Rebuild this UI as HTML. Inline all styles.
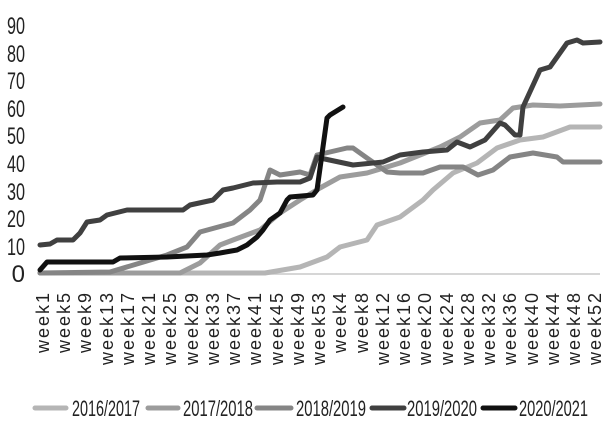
<!DOCTYPE html>
<html><head><meta charset="utf-8"><style>
html,body{margin:0;padding:0;background:#fff;}
svg{display:block;}
text{font-family:"Liberation Sans Narrow","Liberation Sans",sans-serif;}
</style></head><body>
<svg width="612" height="426" viewBox="0 0 612 426" xmlns="http://www.w3.org/2000/svg">
<g fill="#222" font-size="24" text-anchor="end">
<text x="25" y="282" >0</text>
<text x="25" y="255" textLength="18" lengthAdjust="spacingAndGlyphs">10</text>
<text x="25" y="227" textLength="18" lengthAdjust="spacingAndGlyphs">20</text>
<text x="25" y="200" textLength="18" lengthAdjust="spacingAndGlyphs">30</text>
<text x="25" y="172" textLength="18" lengthAdjust="spacingAndGlyphs">40</text>
<text x="25" y="144" textLength="18" lengthAdjust="spacingAndGlyphs">50</text>
<text x="25" y="117" textLength="18" lengthAdjust="spacingAndGlyphs">60</text>
<text x="25" y="89" textLength="18" lengthAdjust="spacingAndGlyphs">70</text>
<text x="25" y="62" textLength="18" lengthAdjust="spacingAndGlyphs">80</text>
<text x="25" y="34" textLength="18" lengthAdjust="spacingAndGlyphs">90</text>
</g>
<line x1="38" y1="274" x2="600" y2="274" stroke="#c8c8c8" stroke-width="1.5"/>
<g fill="none" stroke-width="5" stroke-linejoin="round" stroke-linecap="round">
<polyline stroke="#b5b5b5" points="40,273 265,273 300,267 327,257 340,247 367,240 377,225 400,217 423,200 433,190 453,173 477,163 497,148 520,140 543,137 570,127 600,127"/>
<polyline stroke="#9c9c9c" points="40,273 180,273 200,263 220,245 233,240 260,230 280,213 300,200 320,188 340,177 367,173 400,163 440,147 460,137 480,123 500,120 513,108 533,105 560,106 600,104"/>
<polyline stroke="#858585" points="40,273 110,272 167,255 187,247 200,232 233,223 250,210 260,200 270,170 280,175 300,172 310,175 317,155 347,148 353,148 367,158 387,172 400,173 423,173 440,167 463,167 478,175 493,170 510,157 533,153 557,157 563,162 600,162"/>
<polyline stroke="#404040" points="40,245 50,244 57,240 73,240 80,233 87,222 100,220 107,215 127,210 183,210 190,205 213,200 223,190 233,188 253,183 277,182 300,182 310,178 317,157 320,158 353,165 383,162 400,155 423,152 447,150 457,142 470,147 485,140 500,123 505,125 515,135 520,135 523,107 540,70 550,67 567,43 577,40 583,43 600,42"/>
<polyline stroke="#111" points="40,270 47,262 113,262 120,258 167,257 207,255 220,253 237,250 247,245 257,237 263,230 270,220 280,213 287,200 290,197 313,195 317,190 327,118 330,115 343,107"/>
</g>
<g fill="#222" font-size="18" font-family="Liberation Sans, sans-serif">
<text transform="translate(49,293) rotate(-90)" text-anchor="end" textLength="60" lengthAdjust="spacing">week1</text>
<text transform="translate(70,293) rotate(-90)" text-anchor="end" textLength="60" lengthAdjust="spacing">week5</text>
<text transform="translate(91,293) rotate(-90)" text-anchor="end" textLength="60" lengthAdjust="spacing">week9</text>
<text transform="translate(113,293) rotate(-90)" text-anchor="end" textLength="72" lengthAdjust="spacing">week13</text>
<text transform="translate(134,293) rotate(-90)" text-anchor="end" textLength="72" lengthAdjust="spacing">week17</text>
<text transform="translate(155,293) rotate(-90)" text-anchor="end" textLength="72" lengthAdjust="spacing">week21</text>
<text transform="translate(176,293) rotate(-90)" text-anchor="end" textLength="72" lengthAdjust="spacing">week25</text>
<text transform="translate(198,293) rotate(-90)" text-anchor="end" textLength="72" lengthAdjust="spacing">week29</text>
<text transform="translate(219,293) rotate(-90)" text-anchor="end" textLength="72" lengthAdjust="spacing">week33</text>
<text transform="translate(240,293) rotate(-90)" text-anchor="end" textLength="72" lengthAdjust="spacing">week37</text>
<text transform="translate(261,293) rotate(-90)" text-anchor="end" textLength="72" lengthAdjust="spacing">week41</text>
<text transform="translate(283,293) rotate(-90)" text-anchor="end" textLength="72" lengthAdjust="spacing">week45</text>
<text transform="translate(304,293) rotate(-90)" text-anchor="end" textLength="72" lengthAdjust="spacing">week49</text>
<text transform="translate(325,293) rotate(-90)" text-anchor="end" textLength="72" lengthAdjust="spacing">week53</text>
<text transform="translate(346,293) rotate(-90)" text-anchor="end" textLength="60" lengthAdjust="spacing">week4</text>
<text transform="translate(368,293) rotate(-90)" text-anchor="end" textLength="60" lengthAdjust="spacing">week8</text>
<text transform="translate(389,293) rotate(-90)" text-anchor="end" textLength="72" lengthAdjust="spacing">week12</text>
<text transform="translate(410,293) rotate(-90)" text-anchor="end" textLength="72" lengthAdjust="spacing">week16</text>
<text transform="translate(431,293) rotate(-90)" text-anchor="end" textLength="72" lengthAdjust="spacing">week20</text>
<text transform="translate(453,293) rotate(-90)" text-anchor="end" textLength="72" lengthAdjust="spacing">week24</text>
<text transform="translate(474,293) rotate(-90)" text-anchor="end" textLength="72" lengthAdjust="spacing">week28</text>
<text transform="translate(495,293) rotate(-90)" text-anchor="end" textLength="72" lengthAdjust="spacing">week32</text>
<text transform="translate(516,293) rotate(-90)" text-anchor="end" textLength="72" lengthAdjust="spacing">week36</text>
<text transform="translate(538,293) rotate(-90)" text-anchor="end" textLength="72" lengthAdjust="spacing">week40</text>
<text transform="translate(559,293) rotate(-90)" text-anchor="end" textLength="72" lengthAdjust="spacing">week44</text>
<text transform="translate(580,293) rotate(-90)" text-anchor="end" textLength="72" lengthAdjust="spacing">week48</text>
<text transform="translate(601,293) rotate(-90)" text-anchor="end" textLength="72" lengthAdjust="spacing">week52</text>
</g>
<g stroke-width="5" stroke-linecap="round">
<line x1="35" y1="408" x2="66" y2="408" stroke="#b5b5b5"/>
<line x1="148" y1="408" x2="178" y2="408" stroke="#9c9c9c"/>
<line x1="257" y1="408" x2="291" y2="408" stroke="#858585"/>
<line x1="372" y1="408" x2="404" y2="408" stroke="#404040"/>
<line x1="483" y1="408" x2="515" y2="408" stroke="#111"/>
</g>
<g fill="#222" font-size="22">
<text x="72" y="416" textLength="68" lengthAdjust="spacingAndGlyphs">2016/2017</text>
<text x="183" y="416" textLength="70" lengthAdjust="spacingAndGlyphs">2017/2018</text>
<text x="296" y="416" textLength="70" lengthAdjust="spacingAndGlyphs">2018/2019</text>
<text x="407" y="416" textLength="70" lengthAdjust="spacingAndGlyphs">2019/2020</text>
<text x="519" y="416" textLength="69" lengthAdjust="spacingAndGlyphs">2020/2021</text>
</g>
</svg>
</body></html>
